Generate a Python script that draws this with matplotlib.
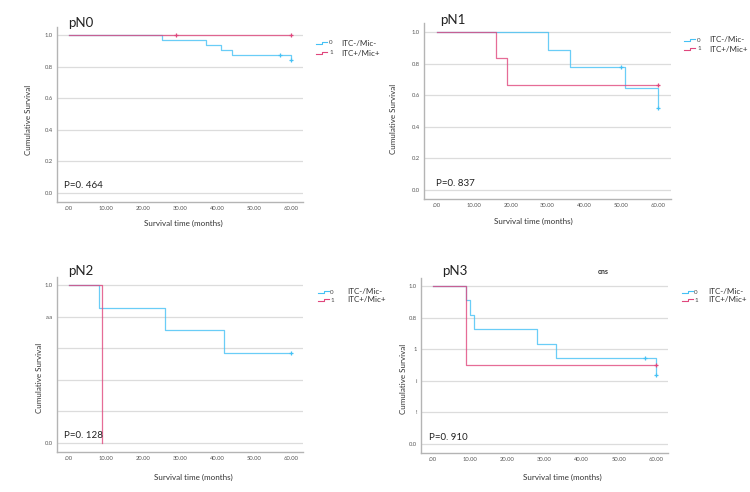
import matplotlib.pyplot as plt
from matplotlib.lines import Line2D

W, H = 750, 492
BLUE = '#45c1f5'
RED = '#e0477d'
GRID = '#dcdcdc'
SPINE = '#b4b4b4'
FONT = ['Lato', 'DejaVu Sans']

plt.rcParams['font.family'] = FONT

# ---- data ----
panel_names = ['pN0', 'pN1', 'pN2', 'pN3']
p_values = ['P=0. 464', 'P=0. 837', 'P=0. 128', 'P=0. 910']
group_codes = ['0', '1']
group_labels = ['ITC-/Mic-', 'ITC+/Mic+']

x_ticks = [0, 10, 20, 30, 40, 50, 60]
x_tick_labels = ['.00', '10.00', '20.00', '30.00', '40.00', '50.00', '60.00']
y_ticks = [0.0, 0.2, 0.4, 0.6, 0.8, 1.0]
y_tick_labels = [
    ['0.0', '0.2', '0.4', '0.6', '0.8', '1.0'],
    ['0.0', '0.2', '0.4', '0.6', '0.8', '1.0'],
    ['0.0', '', '', '', 'a.a', '1.0'],
    ['0.0', '!', 'i', '1', '0.8', '1.0'],
]

# group 0 (ITC-/Mic-)
pn0_time_0 = [0, 25, 37, 41, 44, 60]
pn0_surv_0 = [1.0, 0.969, 0.938, 0.906, 0.875, 0.842]
pn0_cens_t0 = [57, 60]
pn0_cens_s0 = [0.875, 0.842]

pn1_time_0 = [0, 30, 36, 51, 60]
pn1_surv_0 = [1.0, 0.889, 0.778, 0.648, 0.52]
pn1_cens_t0 = [50, 60]
pn1_cens_s0 = [0.778, 0.52]

pn2_time_0 = [0, 8, 26, 42, 60]
pn2_surv_0 = [1.0, 0.857, 0.714, 0.571, 0.571]
pn2_cens_t0 = [60]
pn2_cens_s0 = [0.571]

pn3_time_0 = [0, 9, 10, 11, 28, 33, 60]
pn3_surv_0 = [1.0, 0.909, 0.818, 0.727, 0.636, 0.545, 0.436]
pn3_cens_t0 = [57, 60]
pn3_cens_s0 = [0.545, 0.436]

# group 1 (ITC+/Mic+)
pn0_time_1 = [0, 60]
pn0_surv_1 = [1.0, 1.0]
pn0_cens_t1 = [29, 60]
pn0_cens_s1 = [1.0, 1.0]

pn1_time_1 = [0, 16, 19, 60]
pn1_surv_1 = [1.0, 0.833, 0.667, 0.667]
pn1_cens_t1 = [60]
pn1_cens_s1 = [0.667]

pn2_time_1 = [0, 9]
pn2_surv_1 = [1.0, 0.0]
pn2_cens_t1 = []
pn2_cens_s1 = []

pn3_time_1 = [0, 9, 60]
pn3_surv_1 = [1.0, 0.5, 0.5]
pn3_cens_t1 = [60]
pn3_cens_s1 = [0.5]

curves_0 = [(pn0_time_0, pn0_surv_0, pn0_cens_t0, pn0_cens_s0),
            (pn1_time_0, pn1_surv_0, pn1_cens_t0, pn1_cens_s0),
            (pn2_time_0, pn2_surv_0, pn2_cens_t0, pn2_cens_s0),
            (pn3_time_0, pn3_surv_0, pn3_cens_t0, pn3_cens_s0)]
curves_1 = [(pn0_time_1, pn0_surv_1, pn0_cens_t1, pn0_cens_s1),
            (pn1_time_1, pn1_surv_1, pn1_cens_t1, pn1_cens_s1),
            (pn2_time_1, pn2_surv_1, pn2_cens_t1, pn2_cens_s1),
            (pn3_time_1, pn3_surv_1, pn3_cens_t1, pn3_cens_s1)]

# ---- layout in image pixels ----
# box = left, top, right, bottom ; px of x=0, x=60, y=1, y=0
layout = [
    dict(box=(57, 27, 303, 202), x0=69, x60=291, y1=35, y0=193,
         title=(68, 23), ptxt=(64, 186), ylab=(29, 120), xlab=(183, 223),
         leg_icon=316, leg_code=329, leg_text=341, leg_rows=(43, 53)),
    dict(box=(424, 23, 671, 199), x0=437, x60=658, y1=32, y0=190,
         title=(440, 20), ptxt=(436, 183), ylab=(393, 119), xlab=(533, 221),
         leg_icon=684, leg_code=697, leg_text=709, leg_rows=(40, 49)),
    dict(box=(57, 277, 303, 452), x0=69, x60=291, y1=285, y0=443,
         title=(68, 271), ptxt=(64, 435), ylab=(40, 378), xlab=(193, 477),
         leg_icon=318, leg_code=330, leg_text=347, leg_rows=(292, 300)),
    dict(box=(421, 278, 668, 453), x0=433, x60=656, y1=286, y0=444,
         title=(442, 271), ptxt=(429, 437), ylab=(403, 379), xlab=(562, 477),
         leg_icon=682, leg_code=694, leg_text=708, leg_rows=(292, 300)),
]


def fx(px):
    return px / W


def fy(py):
    return 1 - py / H


fig = plt.figure(figsize=(W / 100, H / 100), dpi=100)
fig.patch.set_facecolor('white')

for i, name in enumerate(panel_names):
    L = layout[i]
    left, top, right, bottom = L['box']
    ax = fig.add_axes([fx(left), fy(bottom), (right - left) / W, (bottom - top) / H])

    sx = (L['x60'] - L['x0']) / 60.0
    sy = (L['y0'] - L['y1']) / 1.0
    ax.set_xlim(-(L['x0'] - left) / sx, 60 + (right - L['x60']) / sx)
    ax.set_ylim(-(bottom - L['y0']) / sy, 1 + (L['y1'] - top) / sy)

    for y in y_ticks:
        ax.axhline(y, color=GRID, lw=0.9, zorder=1)

    for (t, s, ct, cs), color in zip([curves_0[i], curves_1[i]], [BLUE, RED]):
        ax.step(t, s, where='post', color=color, lw=0.9, alpha=0.8, zorder=3)
        if ct:
            ax.plot(ct, cs, ls='none', marker='+', ms=3.5, mew=0.9,
                    color=color, zorder=4)

    ax.set_xticks(x_ticks)
    ax.set_xticklabels(x_tick_labels)
    ax.set_yticks(y_ticks)
    ax.set_yticklabels(y_tick_labels[i])
    ax.tick_params(length=0, labelsize=4.2, colors='#555555', pad=3)

    for side in ['top', 'right']:
        ax.spines[side].set_visible(False)
    for side in ['left', 'bottom']:
        ax.spines[side].set_color(SPINE)
        ax.spines[side].set_linewidth(1.0)

    fig.text(fx(L['title'][0]), fy(L['title'][1]), name, fontsize=9.5,
             ha='left', va='center', color='#222222')
    fig.text(fx(L['ptxt'][0]), fy(L['ptxt'][1]), p_values[i], fontsize=7,
             ha='left', va='center', color='#222222')
    fig.text(fx(L['ylab'][0]), fy(L['ylab'][1]), 'Cumulative Survival',
             fontsize=5.8, rotation=90, ha='center', va='center', color='#333333')
    fig.text(fx(L['xlab'][0]), fy(L['xlab'][1]), 'Survival time (months)',
             fontsize=5.8, ha='center', va='center', color='#333333')

    # legend: small step icons with group code, then label text
    for row, color, code, label in zip(L['leg_rows'], [BLUE, RED], group_codes, group_labels):
        x0 = L['leg_icon']
        xs = [x0, x0 + 6, x0 + 6, x0 + 11]
        ys = [row + 1, row + 1, row - 1, row - 1]
        fig.add_artist(Line2D([fx(v) for v in xs], [fy(v) for v in ys],
                              transform=fig.transFigure, color=color, lw=0.8))
        fig.text(fx(L['leg_code']), fy(row), code, fontsize=4.5,
                 ha='left', va='center', color='#444444')
        fig.text(fx(L['leg_text']), fy(row), label, fontsize=5.8,
                 ha='left', va='center', color='#333333')

fig.text(fx(603), fy(272), 'ons', fontsize=5, fontweight='bold',
         ha='center', va='center', color='#333333')

fig.savefig('out.png', dpi=100)
